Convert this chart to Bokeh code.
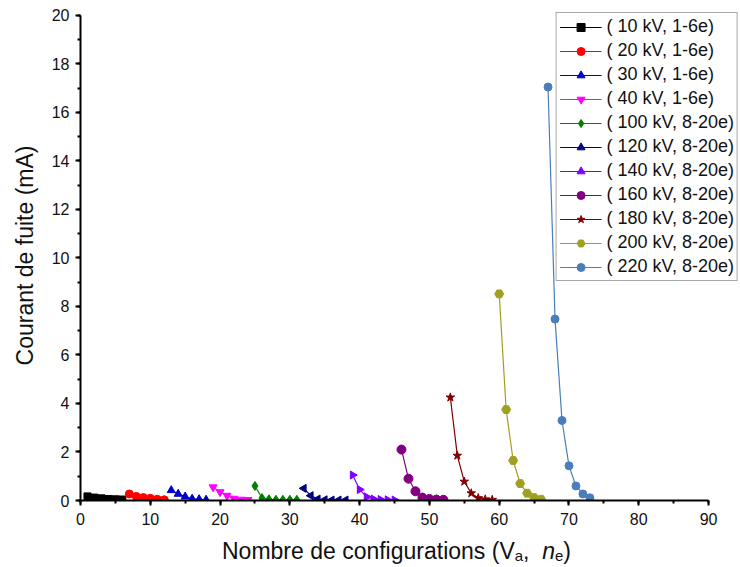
import math
from bokeh.plotting import figure
from bokeh.layouts import column
from bokeh.models import (Range1d, SingleIntervalTicker, Legend, LegendItem,
                          ColumnDataSource, Label)
from bokeh.embed import file_html
from bokeh.resources import INLINE

# ---- data ----
series_names = ["( 10 kV, 1-6e)", "( 20 kV, 1-6e)", "( 30 kV, 1-6e)", "( 40 kV, 1-6e)",
                "( 100 kV, 8-20e)", "( 120 kV, 8-20e)", "( 140 kV, 8-20e)",
                "( 160 kV, 8-20e)", "( 180 kV, 8-20e)", "( 200 kV, 8-20e)",
                "( 220 kV, 8-20e)"]

x_10kV = [1, 2, 3, 4, 5, 6]
y_10kV = [0.17, 0.12, 0.09, 0.06, 0.05, 0.04]
x_20kV = [7, 8, 9, 10, 11, 12]
y_20kV = [0.27, 0.17, 0.12, 0.09, 0.05, 0.03]
x_30kV = [13, 14, 15, 16, 17, 18]
y_30kV = [0.42, 0.27, 0.16, 0.07, 0.05, 0.03]
x_40kV = [19, 20, 21, 22, 23, 24]
y_40kV = [0.55, 0.35, 0.20, 0.08, 0.04, 0.03]
x_100kV = [25, 26, 27, 28, 29, 30, 31]
y_100kV = [0.60, 0.10, 0.05, 0.03, 0.03, 0.03, 0.03]
x_120kV = [32, 33, 34, 35, 36, 37, 38]
y_120kV = [0.50, 0.20, 0.06, 0.03, 0.02, 0.02, 0.02]
x_140kV = [39, 40, 41, 42, 43, 44, 45]
y_140kV = [1.05, 0.45, 0.15, 0.06, 0.04, 0.03, 0.02]
x_160kV = [46, 47, 48, 49, 50, 51, 52]
y_160kV = [2.10, 0.90, 0.38, 0.12, 0.06, 0.04, 0.03]
x_180kV = [53, 54, 55, 56, 57, 58, 59]
y_180kV = [4.25, 1.85, 0.78, 0.30, 0.10, 0.05, 0.03]
x_200kV = [60, 61, 62, 63, 64, 65, 66]
y_200kV = [8.52, 3.75, 1.65, 0.70, 0.30, 0.12, 0.05]
x_220kV = [67, 68, 69, 70, 71, 72, 73]
y_220kV = [17.05, 7.48, 3.30, 1.43, 0.60, 0.27, 0.11]

xs = [x_10kV, x_20kV, x_30kV, x_40kV, x_100kV, x_120kV, x_140kV, x_160kV, x_180kV, x_200kV, x_220kV]
ys = [y_10kV, y_20kV, y_30kV, y_40kV, y_100kV, y_120kV, y_140kV, y_160kV, y_180kV, y_200kV, y_220kV]

x_label_parts = ["Nombre de configurations (V", "a", " , ", "n", "e", ")"]
y_label = "Courant de fuite (mA)"

# ---- styles ----
colors = ["#000000", "#FF0000", "#0000CC", "#FF00FF", "#008000", "#000080",
          "#7F00FF", "#800080", "#800000", "#A0A020", "#4A7EBB"]
markers = ["square", "circle", "triangle", "inverted_triangle", "diamond", "triangle",
           "triangle", "circle", "star", "hex", "circle"]
angles = [0, 0, 0, 0, 0, math.pi / 2, -math.pi / 2, 0, 0, 0, 0]
sizes = [7, 8, 8, 8, 9, 8, 8, 9, 9, 9, 8]

FONT = "Liberation Sans"
TOP_H = 530
FRAME_L = 80

p = figure(width=740, height=TOP_H, title=None,
           x_range=Range1d(0, 94.58), y_range=Range1d(0, 20.206),
           output_backend="svg", toolbar_location=None,
           min_border_left=FRAME_L, min_border_right=0, min_border_top=10,
           min_border_bottom=TOP_H - 500)
p.outline_line_color = None
p.xgrid.visible = False
p.ygrid.visible = False
p.background_fill_color = "white"
p.border_fill_color = "white"

p.xaxis.ticker = SingleIntervalTicker(interval=10, num_minor_ticks=2)
p.yaxis.ticker = SingleIntervalTicker(interval=2, num_minor_ticks=2)
p.xaxis.bounds = (0, 90)
p.yaxis.bounds = (0, 20)
for ax in (p.xaxis, p.yaxis):
    ax.axis_line_width = 2
    ax.axis_line_color = "black"
    ax.major_tick_line_width = 2
    ax.minor_tick_line_width = 2
    ax.major_tick_out = 5
    ax.major_tick_in = 0
    ax.minor_tick_out = 3
    ax.minor_tick_in = 0
    ax.major_label_text_font = FONT
    ax.major_label_text_font_size = "16px"
    ax.major_label_text_color = "#111111"
    ax.major_label_standoff = 6
p.xaxis.major_label_standoff = 7
p.yaxis.axis_label = y_label
p.yaxis.axis_label_text_font = FONT
p.yaxis.axis_label_text_font_size = "23px"
p.yaxis.axis_label_text_font_style = "normal"
p.yaxis.axis_label_text_color = "#111111"
p.yaxis.axis_label_standoff = 11

items = []
for i in range(len(xs)):
    src = ColumnDataSource(dict(x=xs[i], y=ys[i]))
    lr = p.line("x", "y", source=src, line_color=colors[i], line_width=1.2)
    sr = p.scatter("x", "y", source=src, marker=markers[i], size=sizes[i], angle=angles[i],
                   fill_color=colors[i], line_color=colors[i])
    items.append(LegendItem(label=series_names[i], renderers=[lr, sr]))

legend = Legend(items=items, location="top_right",
                label_text_font=FONT, label_text_font_size="18px",
                label_text_color="#111111",
                glyph_width=42, glyph_height=20, label_height=20,
                spacing=3, padding=3, margin=2, label_standoff=5,
                border_line_color="#555555", border_line_width=1.5,
                background_fill_color="white", background_fill_alpha=1.0)
p.add_layout(legend)

# ---- x-axis label with subscripts, in a strip below the plot ----
BOT_H = 567 - TOP_H
q = figure(width=740, height=BOT_H, title=None,
           x_range=Range1d(FRAME_L, 740), y_range=Range1d(0, BOT_H),
           output_backend="svg", toolbar_location=None,
           x_axis_location=None, y_axis_location=None,
           min_border_left=FRAME_L, min_border_right=0,
           min_border_top=0, min_border_bottom=0)
q.outline_line_color = None
q.xgrid.visible = False
q.ygrid.visible = False
q.border_fill_color = "white"
q.background_fill_color = "white"

main_size, sub_size = 23, 15
fsizes = [main_size, sub_size, main_size, main_size, sub_size, main_size]
styles = ["normal", "normal", "normal", "italic", "normal", "normal"]
shifts = [0, 5, 0, 0, 5, 0]
em_widths = [12.727, 0.556, 0.834, 0.556, 0.556, 0.333]
widths = [w * f for w, f in zip(em_widths, fsizes)]
total = sum(widths)
cx = 396 - total / 2
base = 550
for txt, fs, style, shift, w in zip(x_label_parts, fsizes, styles, shifts, widths):
    q.add_layout(Label(x=cx, y=BOT_H - (base + shift - TOP_H), text=txt,
                       text_font=FONT, text_font_size=f"{fs}px",
                       text_font_style=style, text_color="#111111",
                       text_baseline="alphabetic", text_align="left"))
    cx += w

layout = column(p, q, spacing=0)
open("out.html", "w").write(file_html(layout, INLINE))
